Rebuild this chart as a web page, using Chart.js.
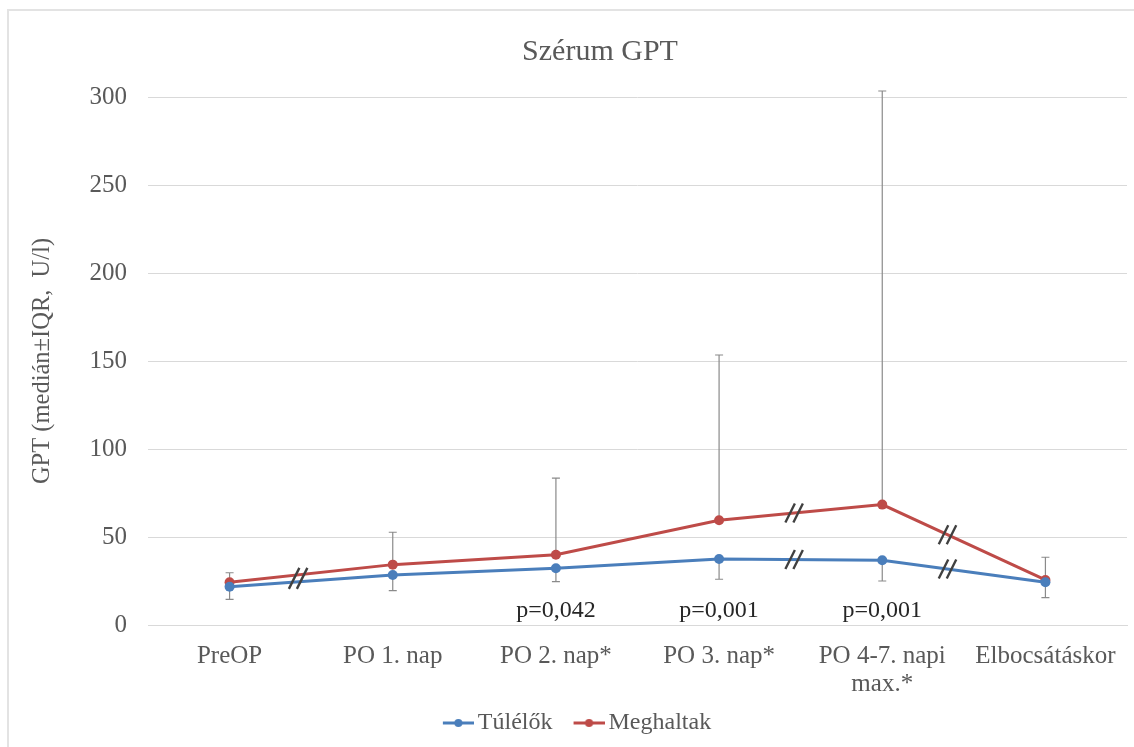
<!DOCTYPE html>
<html>
<head>
<meta charset="utf-8">
<script src="https://cdn.jsdelivr.net/npm/chart.js@4.4.1/dist/chart.umd.min.js"></script>
<style>
  html, body { margin: 0; padding: 0; background: #fff; }
  #wrap { position: relative; width: 1134px; height: 747px; overflow: hidden; }
  #frame { position: absolute; left: 7px; top: 9px; width: 1200px; height: 800px; border: 2px solid #e3e3e3; }
  canvas { position: absolute; left: 0; top: 0; }
</style>
</head>
<body>
<div id="wrap">
  <div id="frame"></div>
  <canvas id="gptChart" width="1134" height="747"></canvas>
</div>
<script>
// categories and values
const chartTitle = 'Szérum GPT';
const categories = ['PreOP', 'PO 1. nap', 'PO 2. nap*', 'PO 3. nap*', ['PO 4-7. napi', 'max.*'], 'Elbocsátáskor'];
const tulelok = [21.7, 28.4, 32.2, 37.5, 36.8, 24.3];
const tulelokQ1 = [14.6, 19.5, 24.6, 26.0, 25.0, 15.5];
const meghaltak = [24.3, 34.3, 39.9, 59.5, 68.4, 25.6];
const meghaltakQ3 = [29.7, 52.7, 83.5, 153.4, 303.4, 38.5];
const pValues = ['', '', 'p=0,042', 'p=0,001', 'p=0,001', ''];
const yTicks = [0, 50, 100, 150, 200, 250, 300];

// axis-break marks: segment start index, fraction along segment, which lines
const breaks = [
  { from: 0, t: 0.42, lines: 'both' },
  { from: 3, t: 0.46, lines: 'each' },
  { from: 4, t: 0.40, lines: 'each' }
];

const BLUE = '#4a7ebb';
const RED = '#be4b48';
const GREY = '#595959';
const FONT = "'Liberation Serif', 'Times New Roman', serif";

// legend marker: line with a dot, placed at the right end of the canvas so it sits close to the text
function legendIcon(color) {
  const c = document.createElement('canvas');
  c.width = 50; c.height = 10;
  const g = c.getContext('2d');
  g.strokeStyle = color; g.lineWidth = 3;
  g.beginPath(); g.moveTo(19, 5); g.lineTo(50, 5); g.stroke();
  g.fillStyle = color;
  g.beginPath(); g.arc(34.5, 5, 4, 0, Math.PI * 2); g.fill();
  return c;
}

const extras = {
  id: 'extras',
  beforeDatasetsDraw(chart) {
    const ctx = chart.ctx, x = chart.scales.x, y = chart.scales.y;
    ctx.save();
    // title
    ctx.fillStyle = GREY;
    ctx.font = '30px ' + FONT;
    ctx.textAlign = 'center';
    ctx.textBaseline = 'middle';
    ctx.fillText(chartTitle, 600, 52);
    // error bars
    ctx.strokeStyle = '#8a8a8a';
    ctx.lineWidth = 1.2;
    const bar = (px, v0, v1) => {
      const a = y.getPixelForValue(v0), b = y.getPixelForValue(v1);
      ctx.beginPath();
      ctx.moveTo(px, a); ctx.lineTo(px, b);
      ctx.moveTo(px - 4, b); ctx.lineTo(px + 4, b);
      ctx.stroke();
    };
    categories.forEach((c, i) => {
      const px = x.getPixelForValue(i);
      bar(px, meghaltak[i], meghaltakQ3[i]);
      bar(px, tulelok[i], tulelokQ1[i]);
    });
    ctx.restore();
  },
  afterDatasetsDraw(chart) {
    const ctx = chart.ctx, x = chart.scales.x, y = chart.scales.y;
    ctx.save();
    // p values
    ctx.fillStyle = '#262626';
    ctx.font = '24px ' + FONT;
    ctx.textAlign = 'center';
    ctx.textBaseline = 'alphabetic';
    pValues.forEach((p, i) => {
      if (p) ctx.fillText(p, x.getPixelForValue(i), y.getPixelForValue(0) - 8);
    });
    // break marks
    ctx.strokeStyle = '#404040';
    ctx.lineWidth = 2.4;
    const mark = (cx, cy, h) => {
      [-4, 4].forEach(dx => {
        ctx.beginPath();
        ctx.moveTo(cx + dx - h * 0.25, cy + h / 2);
        ctx.lineTo(cx + dx + h * 0.25, cy - h / 2);
        ctx.stroke();
      });
    };
    const at = (arr, i, t) => {
      const x0 = x.getPixelForValue(i), x1 = x.getPixelForValue(i + 1);
      const y0 = y.getPixelForValue(arr[i]), y1 = y.getPixelForValue(arr[i + 1]);
      return [x0 + (x1 - x0) * t, y0 + (y1 - y0) * t];
    };
    breaks.forEach(b => {
      const r = at(meghaltak, b.from, b.t), bl = at(tulelok, b.from, b.t);
      if (b.lines === 'both') {
        mark((r[0] + bl[0]) / 2, (r[1] + bl[1]) / 2, 21);
      } else {
        mark(r[0], r[1], 19);
        mark(bl[0], bl[1], 19);
      }
    });
    ctx.restore();
  }
};

new Chart(document.getElementById('gptChart'), {
  type: 'line',
  data: {
    labels: categories,
    datasets: [
      { label: 'Túlélők', data: tulelok, borderColor: BLUE, backgroundColor: BLUE,
        borderWidth: 3, pointRadius: 5, pointBorderWidth: 0, tension: 0, pointStyle: 'circle' },
      { label: 'Meghaltak', data: meghaltak, borderColor: RED, backgroundColor: RED,
        borderWidth: 3, pointRadius: 5, pointBorderWidth: 0, tension: 0, pointStyle: 'circle' }
    ]
  },
  options: {
    responsive: false,
    animation: false,
    layout: { padding: { left: 16, right: 7, top: 97, bottom: 2 } },
    plugins: {
      title: { display: false },
      legend: {
        position: 'bottom',
        labels: {
          color: GREY, font: { family: FONT, size: 24 },
          usePointStyle: true, pointStyleWidth: 34, padding: 10,
          generateLabels(chart) {
            return chart.data.datasets.map((d, i) => ({
              text: d.label, fillStyle: d.borderColor, strokeStyle: d.borderColor,
              fontColor: GREY, lineWidth: 0, pointStyle: legendIcon(d.borderColor),
              datasetIndex: i, hidden: false
            }));
          }
        }
      },
      tooltip: { enabled: false }
    },
    scales: {
      x: {
        offset: true,
        grid: { display: false, drawTicks: false },
        border: { display: true, color: '#d9d9d9' },
        ticks: { color: GREY, font: { family: FONT, size: 25, lineHeight: 1.12 }, padding: 17, maxRotation: 0, autoSkip: false },
        afterFit(s) { s.height = 76; }
      },
      y: {
        min: 0, max: 300,
        afterBuildTicks(s) { s.ticks = yTicks.map(v => ({ value: v })); },
        grid: { color: '#d9d9d9', drawTicks: false },
        border: { display: false },
        ticks: { color: GREY, font: { family: FONT, size: 25 }, padding: 21 },
        title: {
          display: true, text: 'GPT (medián±IQR,  U/l)', color: GREY,
          font: { family: FONT, size: 24.5 }, padding: { top: 12, bottom: 0 }
        },
        afterFit(s) { s.width = 132; }
      }
    }
  },
  plugins: [extras]
});
</script>
</body>
</html>
